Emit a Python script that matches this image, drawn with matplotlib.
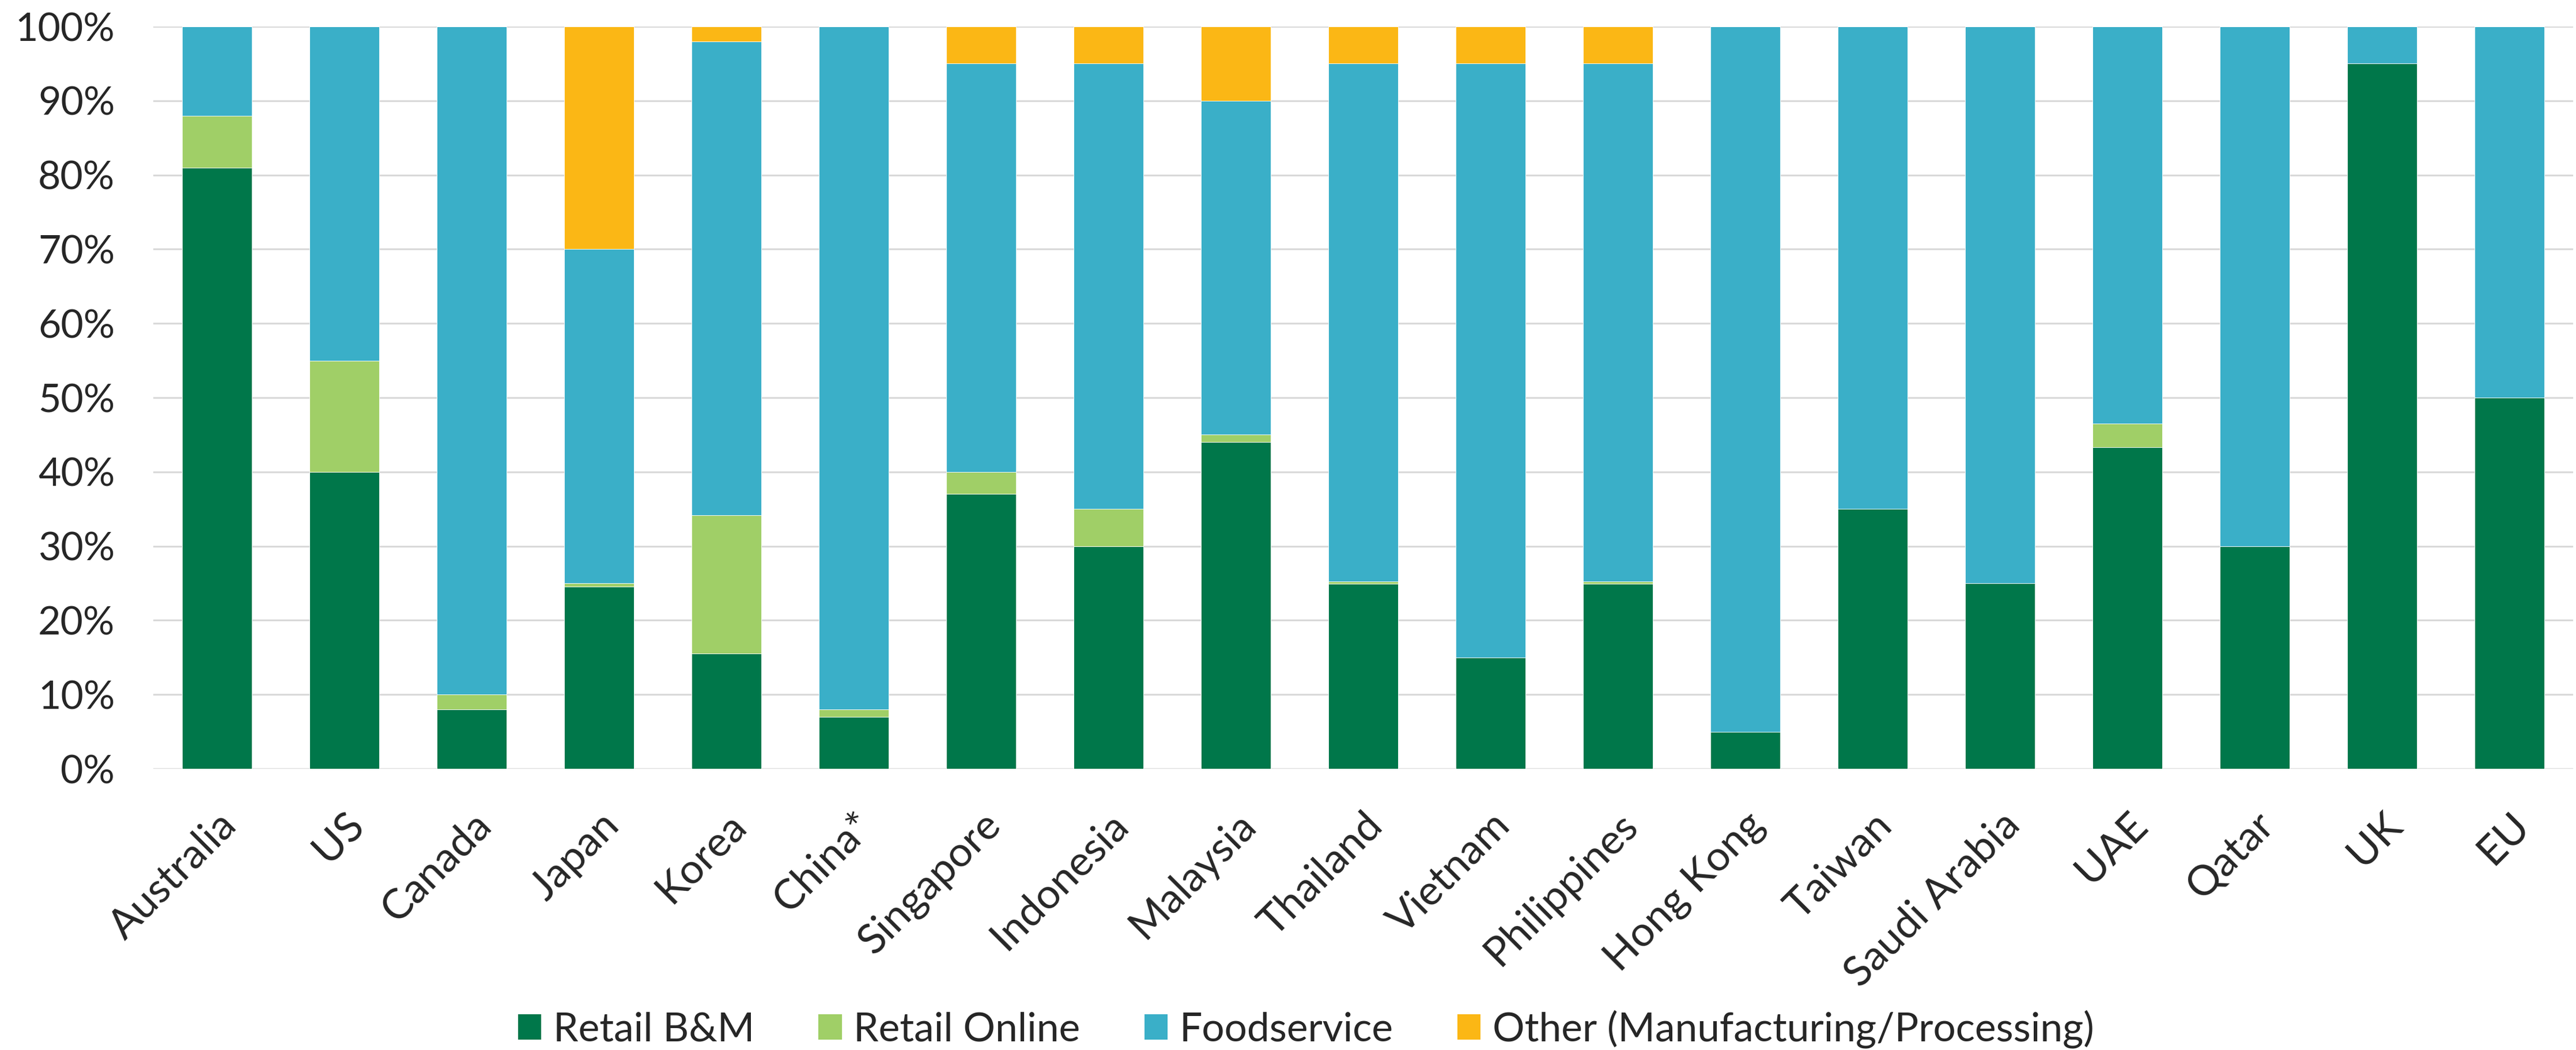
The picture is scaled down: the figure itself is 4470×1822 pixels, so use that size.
import matplotlib
matplotlib.use("Agg")
import matplotlib.pyplot as plt
from matplotlib.patches import Patch, Circle
from matplotlib.ticker import FuncFormatter, MultipleLocator
import numpy as np

plt.rcParams['font.family'] = ['Lato', 'DejaVu Sans']

# Share of sales by channel (%)
countries = ["Australia", "US", "Canada", "Japan", "Korea", "China*", "Singapore",
             "Indonesia", "Malaysia", "Thailand", "Vietnam", "Philippines",
             "Hong Kong", "Taiwan", "Saudi Arabia", "UAE", "Qatar", "UK", "EU"]
retail_bm     = [81, 40, 8, 24.5, 15.5, 7, 37, 30, 44, 24.9, 15, 24.9, 5, 35, 25, 43.3, 30, 95, 50]
retail_online = [7, 15, 2, 0.5, 18.7, 1, 3, 5, 1, 0.3, 0, 0.3, 0, 0, 0, 3.2, 0, 0, 0]
foodservice   = [12, 45, 90, 45, 63.8, 92, 55, 60, 45, 69.8, 80, 69.8, 95, 65, 75, 53.5, 70, 5, 50]
other         = [0, 0, 0, 30, 2, 0, 5, 5, 10, 5, 5, 5, 0, 0, 0, 0, 0, 0, 0]

series_names = ["Retail B&M", "Retail Online", "Foodservice",
                "Other (Manufacturing/Processing)"]
colors = ["#00774A", "#A0CF67", "#3AAFC8", "#FBB715"]

W, H = 4470, 1822
fig = plt.figure(figsize=(W / 100, H / 100), dpi=100)
left, right, top, bottom = 266, 4465, 46, 1334
ax = fig.add_axes([left / W, (H - bottom) / H, (right - left) / W, (bottom - top) / H])

x = np.arange(len(countries))
base = np.zeros(len(countries))
for vals, col in zip([retail_bm, retail_online, foodservice, other], colors):
    v = np.array(vals, dtype=float)
    ax.bar(x, v, bottom=base, width=0.55, color=col, edgecolor="white",
           linewidth=0.6, zorder=3)
    base += v

ax.set_xlim(-0.5, len(countries) - 0.5)
ax.set_ylim(0, 100)
ax.yaxis.set_major_locator(MultipleLocator(10))
ax.yaxis.set_major_formatter(FuncFormatter(lambda v, p: f"{int(round(v))}%"))
ax.grid(axis="y", color="#D9D9D9", linewidth=2.2, zorder=0)
ax.set_axisbelow(True)
for s in ax.spines.values():
    s.set_visible(False)

ax.tick_params(axis="y", length=0, pad=48, labelsize=49, labelcolor="#262626")
ax.tick_params(axis="x", length=0, pad=46, labelsize=52, labelcolor="#262626")
ax.set_xticks(x)
ax.set_xticklabels(countries, rotation=45, ha="right", va="top",
                   rotation_mode="anchor")

handles = [Patch(facecolor=c, edgecolor="none") for c in colors]
fig.legend(handles, series_names, loc="center", bbox_to_anchor=(0.507, (H - 1786) / H),
           ncol=4, frameon=False, fontsize=50, handlelength=0.58, handleheight=0.6,
           handletextpad=0.3, columnspacing=1.6, labelcolor="#262626")

# corner badge
badge = Circle((4440 / W, (H - 1905) / H), 90 / W, transform=fig.transFigure,
               facecolor="#FBB715", edgecolor="none", clip_on=False)
fig.patches.append(badge)

fig.savefig("out.png", dpi=100, facecolor="white")
